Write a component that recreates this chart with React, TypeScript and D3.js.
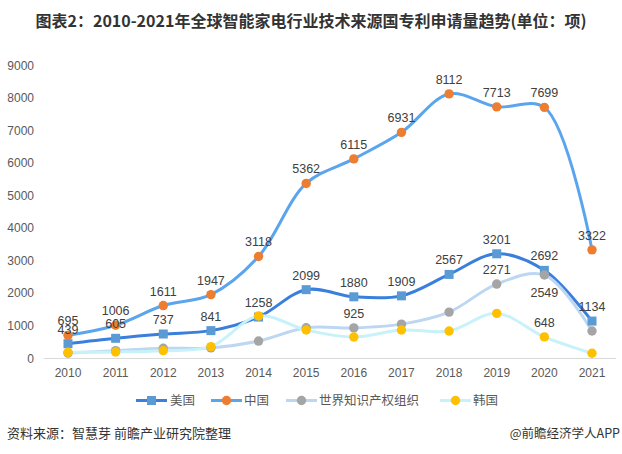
import React from "react";
import * as d3 from "d3";

const years = ["2010","2011","2012","2013","2014","2015","2016","2017","2018","2019","2020","2021"];
const usValues = [439, 605, 737, 841, 1258, 2099, 1880, 1909, 2567, 3201, 2692, 1134];
const chinaValues = [695, 1006, 1611, 1947, 3118, 5362, 6115, 6931, 8112, 7713, 7699, 3322];
const wipoValues = [150, 225, 300, 310, 520, 930, 925, 1040, 1410, 2271, 2549, 830];
const koreaValues = [175, 185, 225, 350, 1290, 860, 645, 860, 830, 1370, 648, 145];
const usLabels = [true, true, true, true, true, true, true, true, true, true, true, true];
const chinaLabels = [true, true, true, true, true, true, true, true, true, true, true, true];
const wipoLabels = [false, false, false, false, false, false, true, false, false, true, true, false];
const koreaLabels = [false, false, false, false, false, false, false, false, false, false, true, false];
const yTicks = [0, 1000, 2000, 3000, 4000, 5000, 6000, 7000, 8000, 9000];
const seriesNames = ["美国", "中国", "世界知识产权组织", "韩国"];

const W = 622, H = 454;
const FONT = "'Liberation Sans', Arial, 'Noto Sans CJK SC', sans-serif";
const CJK = "'Noto Sans CJK SC', 'Liberation Sans', sans-serif";

type S = { name: string; values: number[]; labels: boolean[]; line: string; marker: string; shape: "square" | "circle"; below?: boolean[] };

const series: S[] = [
  { name: seriesNames[0], values: usValues, labels: usLabels, line: "#3a7fdc", marker: "#5b9bd5", shape: "square" },
  { name: seriesNames[1], values: chinaValues, labels: chinaLabels, line: "#5aa5ee", marker: "#ed7d31", shape: "circle" },
  { name: seriesNames[2], values: wipoValues, labels: wipoLabels, line: "#bdd7f2", marker: "#a5a5a5", shape: "circle", below: [false,false,false,false,false,false,false,false,false,false,true,false] },
  { name: seriesNames[3], values: koreaValues, labels: koreaLabels, line: "#c8f2fa", marker: "#ffc000", shape: "circle" },
];

function Marker({ s, cx, cy }: { s: S; cx: number; cy: number }) {
  if (s.shape === "square") return <rect x={cx - 4.5} y={cy - 4.5} width={9} height={9} fill={s.marker} />;
  return <circle cx={cx} cy={cy} r={4.7} fill={s.marker} />;
}

export default function App() {
  const x = d3.scalePoint<string>().domain(years).range([68, 592]);
  const y = d3.scaleLinear().domain([0, 9000]).range([358, 65]);
  const line = d3.line<number>().x((_, i) => x(years[i]) as number).y((v) => y(v)).curve(d3.curveCatmullRom.alpha(0.5));

  const legendPos = [
    { lx: 136, tx: 170 },
    { lx: 211, tx: 244 },
    { lx: 286, tx: 319 },
    { lx: 440, tx: 473 },
  ];

  return (
    <svg width={W} height={H} style={{ position: "absolute", left: 0, top: 0, background: "#fff" }}>
      <rect width={W} height={H} fill="#fff" />
      <text x={311} y={27} textAnchor="middle" fontSize={16} fontWeight="bold" fill="#333" fontFamily={CJK}>
        图表2：2010-2021年全球智能家电行业技术来源国专利申请量趋势(单位：项)
      </text>
      {yTicks.map((t) => (
        <text key={t} x={34} y={y(t) + 4.5} textAnchor="end" fontSize={12} fill="#595959" fontFamily={FONT}>{t}</text>
      ))}
      <line x1={44} x2={616} y1={358.5} y2={358.5} stroke="#d9d9d9" strokeWidth={1} />
      {years.map((yr) => (
        <text key={yr} x={x(yr)} y={377} textAnchor="middle" fontSize={12} fill="#595959" fontFamily={FONT}>{yr}</text>
      ))}
      {series.map((s) => (
        <path key={s.name} d={line(s.values) || ""} fill="none" stroke={s.line} strokeWidth={3} strokeLinecap="round" strokeLinejoin="round" />
      ))}
      {series.map((s) => (
        <g key={s.name + "m"}>
          {s.values.map((v, i) => <Marker key={i} s={s} cx={x(years[i]) as number} cy={y(v)} />)}
        </g>
      ))}
      {series.map((s) => (
        <g key={s.name + "l"}>
          {s.values.map((v, i) => s.labels[i] ? (
            <text key={i} x={x(years[i])} y={s.below && s.below[i] ? y(v) + 22 : y(v) - 10} textAnchor="middle" fontSize={12.5} fill="#404040" fontFamily={FONT}>{v}</text>
          ) : null)}
        </g>
      ))}
      {series.map((s, i) => (
        <g key={s.name + "lg"}>
          <line x1={legendPos[i].lx} x2={legendPos[i].lx + 31} y1={400.5} y2={400.5} stroke={s.line} strokeWidth={3} />
          <Marker s={s} cx={legendPos[i].lx + 15.5} cy={400.5} />
          <text x={legendPos[i].tx} y={405} fontSize={12.5} fill="#595959" fontFamily={CJK}>{s.name}</text>
        </g>
      ))}
      <text x={7} y={438} fontSize={13} fill="#333" fontFamily={CJK}>资料来源：智慧芽 前瞻产业研究院整理</text>
      <text x={620} y={438} textAnchor="end" fontSize={12.5} fill="#333" fontFamily={CJK}>@前瞻经济学人APP</text>
    </svg>
  );
}
